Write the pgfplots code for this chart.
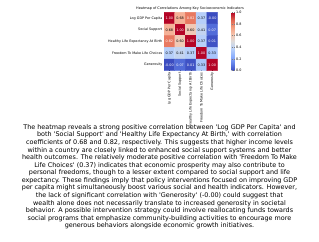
\documentclass[border=0pt]{standalone}
\usepackage{pgfplots}
\pgfplotsset{compat=1.18}
\usepackage{fontspec}
\setmainfont{DejaVu Sans}[Ligatures=TeXOff]
\pgfplotsset{
  colormap={coolwarm}{rgb255(0)=(59,76,192) rgb255(1)=(98,130,234) rgb255(2)=(141,176,254) rgb255(3)=(184,208,249) rgb255(4)=(221,220,220) rgb255(5)=(245,196,173) rgb255(6)=(244,154,123) rgb255(7)=(222,96,77) rgb255(8)=(180,4,38)}
}
\begin{document}
\begin{tikzpicture}
\path[use as bounding box] (0,0) rectangle (319bp,-242bp);
\begin{axis}[
  at={(164bp,-12.3bp)}, anchor=north west,
  scale only axis, width=53.5bp, height=58.4bp,
  xmin=-0.5, xmax=4.5, ymin=-0.5, ymax=4.5, y dir=reverse,
  enlargelimits=false, axis line style={draw=none},
  xtick={0,...,4}, ytick={0,...,4},
  xticklabels={Log GDP Per Capita, Social Support, Healthy Life Expectancy At Birth, Freedom To Make Life Choices, Generosity},
  yticklabels={Log GDP Per Capita, Social Support, Healthy Life Expectancy At Birth, Freedom To Make Life Choices, Generosity},
  x tick label style={rotate=90, anchor=east, font=\fontsize{3.35}{4}\selectfont, inner sep=1.5bp},
  y tick label style={font=\fontsize{3.35}{4}\selectfont, inner sep=1.5bp},
  major tick length=1.2bp, tick style={black, line width=0.2pt},
  xtick pos=bottom, ytick pos=left,
  colormap name=coolwarm, point meta min=-0.004, point meta max=1,
  colorbar,
  colorbar style={at={(parent axis.north east)}, anchor=north west, xshift=5.5bp, width=3.2bp,
    ytick={0,0.2,0.4,0.6,0.8,1.0}, yticklabel style={font=\fontsize{3.35}{4}\selectfont, inner sep=1.2bp, /pgf/number format/fixed, /pgf/number format/fixed zerofill, /pgf/number format/precision=1, /pgf/number format/assume math mode=true},
    major tick length=1bp, axis line style={draw=none}, tick style={line width=0.2pt}},
]
\addplot[matrix plot*, mesh/cols=5, point meta=explicit] table[meta=c] {
x y c
0 0 1.00
1 0 0.68
2 0 0.82
3 0 0.37
4 0 -0.004
0 1 0.68
1 1 1.00
2 1 0.60
3 1 0.41
4 1 0.07
0 2 0.82
1 2 0.60
2 2 1.00
3 2 0.37
4 2 0.01
0 3 0.37
1 3 0.41
2 3 0.37
3 3 1.00
4 3 0.33
0 4 -0.004
1 4 0.07
2 4 0.01
3 4 0.33
4 4 1.00
};
\addplot[draw=none, mark=none, nodes near coords, point meta=explicit symbolic, nodes near coords align={center},
  every node near coord/.style={font=\fontsize{3.4}{4}\selectfont, text=white, inner sep=0pt}] table[meta=t] {
x y t
0 0 1.00
2 0 0.82
4 0 -0.00
1 1 1.00
4 1 0.07
0 2 0.82
2 2 1.00
4 2 0.01
3 3 1.00
0 4 -0.00
1 4 0.07
2 4 0.01
4 4 1.00
};
\addplot[draw=none, mark=none, nodes near coords, point meta=explicit symbolic, nodes near coords align={center},
  every node near coord/.style={font=\fontsize{3.4}{4}\selectfont, text=black, inner sep=0pt}] table[meta=t] {
x y t
1 0 0.68
3 0 0.37
0 1 0.68
2 1 0.60
3 1 0.41
1 2 0.60
3 2 0.37
0 3 0.37
1 3 0.41
2 3 0.37
4 3 0.33
3 4 0.33
};
\end{axis}
\node[font=\fontsize{3.45}{4}\selectfont, anchor=base] at (190bp,-9.6bp) {Heatmap of Correlations Among Key Socioeconomic Indicators};
\node[anchor=north, align=center, inner sep=0pt, font=\fontsize{6.45}{7.6}\selectfont] at (159.5bp,-124.3bp) {%
The heatmap reveals a strong positive correlation between 'Log GDP Per Capita' and\\
both 'Social Support' and 'Healthy Life Expectancy At Birth,' with correlation\\
coefficients of 0.68 and 0.82, respectively. This suggests that higher income levels\\
within a country are closely linked to enhanced social support systems and better\\
health outcomes. The relatively moderate positive correlation with 'Freedom To Make\\
Life Choices' (0.37) indicates that economic prosperity may also contribute to\\
personal freedoms, though to a lesser extent compared to social support and life\\
expectancy. These findings imply that policy interventions focused on improving GDP\\
per capita might simultaneously boost various social and health indicators. However,\\
the lack of significant correlation with 'Generosity' (-0.00) could suggest that\\
wealth alone does not necessarily translate to increased generosity in societal\\
behavior. A possible intervention strategy could involve reallocating funds towards\\
social programs that emphasize community-building activities to encourage more\\
generous behaviors alongside economic growth initiatives.};
\end{tikzpicture}
\end{document}
